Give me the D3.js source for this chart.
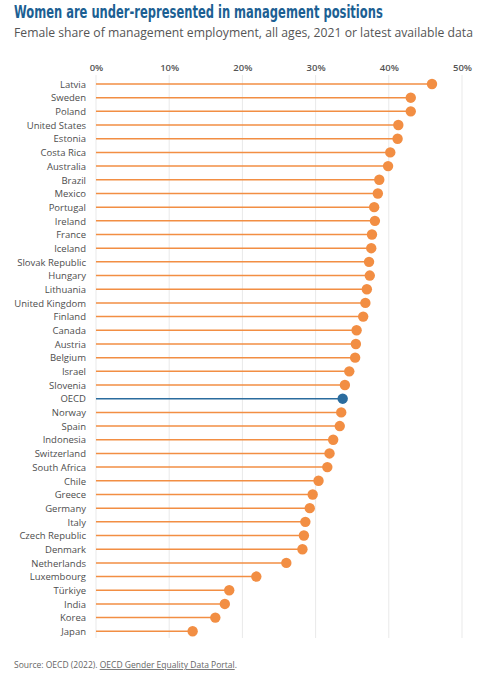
<!DOCTYPE html>
<html><head><meta charset="utf-8">
<script src="https://cdn.jsdelivr.net/npm/d3@7"></script>
<style>
body{margin:0;background:#fff;}
svg{display:block;}
</style></head>
<body>
<svg id="c" width="496" height="680"></svg>
<script>
const countries = ["Latvia","Sweden","Poland","United States","Estonia","Costa Rica","Australia","Brazil","Mexico","Portugal","Ireland","France","Iceland","Slovak Republic","Hungary","Lithuania","United Kingdom","Finland","Canada","Austria","Belgium","Israel","Slovenia","OECD","Norway","Spain","Indonesia","Switzerland","South Africa","Chile","Greece","Germany","Italy","Czech Republic","Denmark","Netherlands","Luxembourg","Türkiye","India","Korea","Japan"];
const values = [45.9,43.0,43.0,41.3,41.2,40.2,39.9,38.7,38.5,38.0,38.1,37.7,37.6,37.3,37.4,37.0,36.8,36.5,35.6,35.5,35.4,34.6,34.0,33.7,33.5,33.3,32.4,31.9,31.6,30.4,29.6,29.2,28.6,28.4,28.2,26.0,21.9,18.2,17.6,16.3,13.2];
const tickValues = [0,10,20,30,40,50];
const highlight = "OECD";

const data = countries.map((c,i)=>({name:c, value:values[i]}));
const svg = d3.select("#c");
const orange = "#f28e43", blue = "#2b6c9e";

const titleG = svg.append("g");
const title = titleG.append("text").attr("x",0).attr("y",0)
  .attr("font-family","'DejaVu Sans Condensed','Liberation Sans Narrow',sans-serif")
  .attr("font-stretch","condensed")
  .attr("font-weight","bold").attr("font-size",18).attr("fill","#1c5f93")
  .text("Women are under-represented in management positions");
const natW = title.node().getComputedTextLength();
titleG.attr("transform",`translate(14,18) scale(${369/natW},1)`);

svg.append("text").attr("x",14).attr("y",37)
  .attr("font-family","'Open Sans',sans-serif").attr("font-size",12.2).attr("fill","#555")
  .text("Female share of management employment, all ages, 2021 or latest available data");

const x = d3.scaleLinear().domain([0,50]).range([96,462]);
const y = d3.scalePoint().domain(countries).range([84,631.3]);

const g = svg.append("g");
g.selectAll("line.grid").data(tickValues).join("line")
  .attr("x1",d=>x(d)).attr("x2",d=>x(d)).attr("y1",75).attr("y2",638)
  .attr("stroke","#e9e9e9").attr("stroke-width",1);

const ax = d3.axisTop(x).tickValues(tickValues).tickFormat(d=>d+"%").tickSize(0).tickPadding(0);
const axg = svg.append("g").attr("transform","translate(0,71)").call(ax);
axg.select(".domain").remove();
axg.selectAll("text").attr("font-family","'Open Sans',sans-serif").attr("font-size",9.5)
  .attr("font-weight",600).attr("fill","#555");

const yax = d3.axisLeft(y).tickSize(0).tickPadding(0);
const yg = svg.append("g").attr("transform","translate(86,0)").call(yax);
yg.select(".domain").remove();
yg.selectAll("text").attr("font-family","'Open Sans',sans-serif").attr("font-size",9.5)
  .attr("font-weight",500).attr("fill","#4d4d4d").attr("dy","0.34em");

g.selectAll("line.stem").data(data).join("line")
  .attr("x1",x(0)).attr("x2",d=>x(d.value)).attr("y1",d=>y(d.name)).attr("y2",d=>y(d.name))
  .attr("stroke",d=>d.name===highlight?blue:orange).attr("stroke-width",1.5);
g.selectAll("circle").data(data).join("circle")
  .attr("cx",d=>x(d.value)).attr("cy",d=>y(d.name)).attr("r",5.2)
  .attr("fill",d=>d.name===highlight?blue:orange);

const src = svg.append("text").attr("x",14).attr("y",668)
  .attr("font-family","'Open Sans',sans-serif").attr("font-size",8.5).attr("fill","#666");
src.append("tspan").text("Source: OECD (2022). ");
src.append("tspan").attr("text-decoration","underline").text("OECD Gender Equality Data Portal");
src.append("tspan").text(".");
</script>
</body></html>
